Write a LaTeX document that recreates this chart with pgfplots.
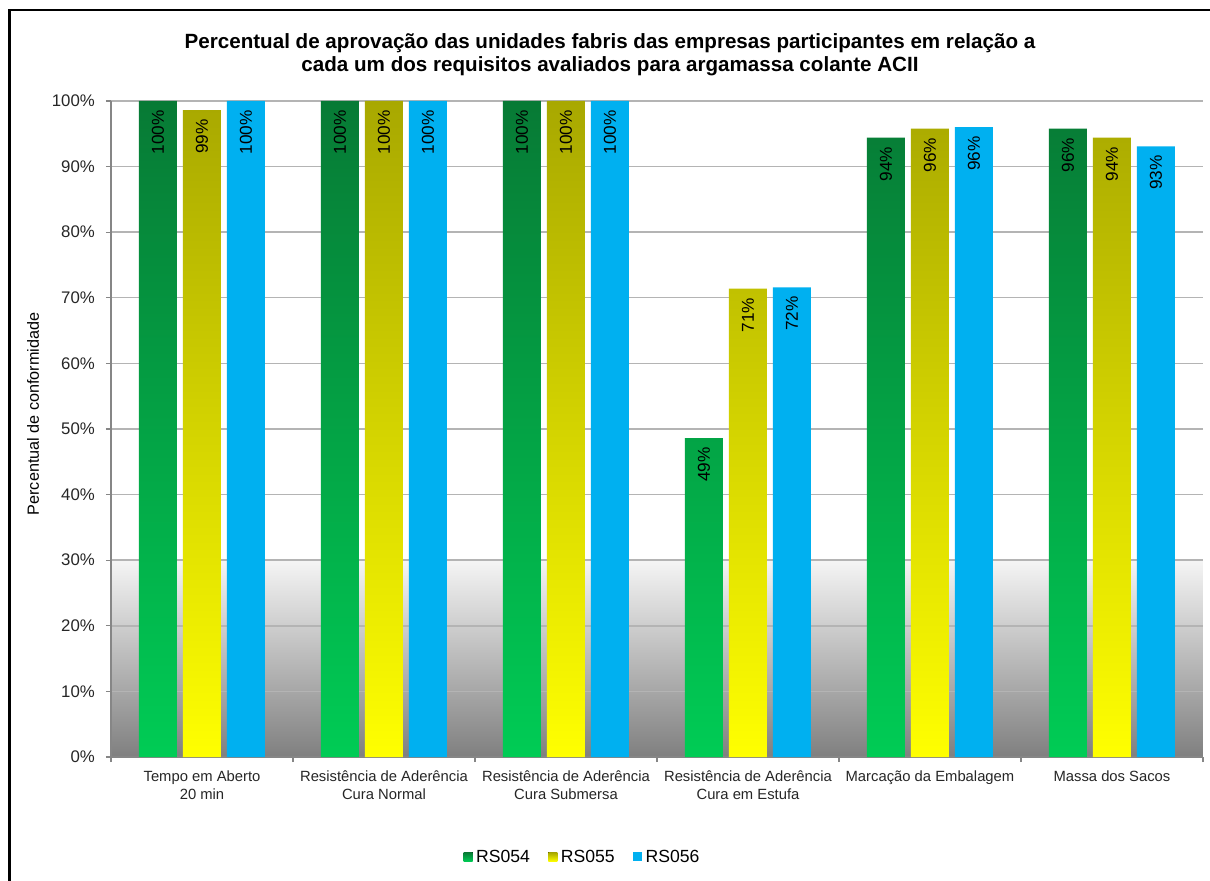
\documentclass[border=0pt]{standalone}
\usepackage{fontspec}
\setmainfont{Liberation Sans}
\usepackage{pgfplots}
\pgfplotsset{compat=1.18}

\definecolor{gtop}{RGB}{7,122,53}
\definecolor{gbot}{RGB}{0,204,85}
\definecolor{ytop}{RGB}{168,168,0}
\definecolor{ybot}{RGB}{255,255,0}
\definecolor{blu}{RGB}{0,176,240}
\definecolor{gridc}{RGB}{180,180,180}
\definecolor{axc}{RGB}{134,134,134}

% plot wall: white above 30%, grey gradient below
\pgfdeclareverticalshading{wall}{100bp}{color(0bp)=(black!50); color(25bp)=(black!50);
  color(40bp)=(black!4); color(40.01bp)=(white); color(100bp)=(white)}

\pgfplotsset{sqleg/.style={legend image code/.code={\fill[##1] (0bp,-4.5bp) rectangle (9bp,4.5bp);}}}

\begin{document}
\begin{tikzpicture}
\begin{axis}[
  at={(0,0)}, anchor=south west,
  scale only axis, width=1092bp, height=656bp,
  axis background/.style={shading=wall},
  ybar, bar width=38bp, ybar=6bp,
  xmin=-0.5, xmax=5.5, ymin=0, ymax=100,
  enlargelimits=false,
  axis x line*=bottom, axis y line*=left,
  axis line style={axc, line width=1.3bp},
  tick align=outside, major tick length=5bp,
  tick style={axc, line width=1.3bp},
  ymajorgrids, grid style={gridc, line width=1.4bp},
  ytick={0,10,...,100},
  yticklabel={\pgfmathprintnumber{\tick}\%},
  /pgf/number format/assume math mode=true,
  yticklabel style={font=\fontsize{16.8bp}{18bp}\selectfont, text=black!85, inner sep=0pt, xshift=-11bp},
  xtick={-0.5,0.5,...,5.5}, xticklabels={},
  extra x ticks={0,1,2,3,4,5},
  extra x tick labels={{Tempo em Aberto\\20 min},{Resistência de Aderência\\Cura Normal},
    {Resistência de Aderência\\Cura Submersa},{Resistência de Aderência\\Cura em Estufa},
    {Marcação da Embalagem},{Massa dos Sacos}},
  extra x tick style={major tick length=0pt, grid=none},
  xticklabel style={font=\fontsize{14.8bp}{17.5bp}\selectfont, text=black!85, align=center, inner sep=0pt, yshift=-14bp},
  title={Percentual de aprovação das unidades fabris das empresas participantes em relação a\\cada um dos requisitos avaliados para argamassa colante ACII},
  title style={font=\bfseries\fontsize{20.6bp}{23.5bp}\selectfont, align=center, inner sep=0pt,
    at={(axis description cs:0.457,1.0945)}, anchor=north},
  ylabel={Percentual de conformidade},
  ylabel style={font=\fontsize{16.2bp}{18bp}\selectfont, at={(axis description cs:-0.0714,0.523)}, anchor=center, rotate=0},
  nodes near coords={\pgfmathprintnumber[fixed,precision=0]{\pgfplotspointmeta}\%},
  every node near coord/.append style={rotate=90, anchor=east, inner xsep=9bp, inner ysep=0pt,
    font=\fontsize{17.2bp}{18bp}\selectfont, text=black},
  legend columns=3,
  legend style={draw=none, fill=none, at={(axis description cs:0.4325,-0.1524)}, anchor=center,
    font=\fontsize{17.6bp}{19bp}\selectfont, /tikz/every even column/.append style={column sep=15bp},
    nodes={inner xsep=3.5bp}},
]
\addplot[draw=none, top color=gtop, bottom color=gbot, sqleg]
  coordinates {(0,100) (1,100) (2,100) (3,48.6) (4,94.4) (5,95.8)};
\addplot[draw=none, top color=ytop, bottom color=ybot, sqleg]
  coordinates {(0,98.6) (1,100) (2,100) (3,71.4) (4,95.8) (5,94.4)};
\addplot[draw=none, fill=blu, sqleg]
  coordinates {(0,100) (1,100) (2,100) (3,71.6) (4,96.0) (5,93.1)};
\legend{RS054,RS055,RS056}
\end{axis}
\draw[line width=2.7bp, black] (-101.5bp,-130bp) -- (-101.5bp,747bp) -- (1105bp,747bp);
\pgfresetboundingbox
\useasboundingbox (-111bp,-124bp) rectangle (1099bp,757bp);
\end{tikzpicture}
\end{document}
